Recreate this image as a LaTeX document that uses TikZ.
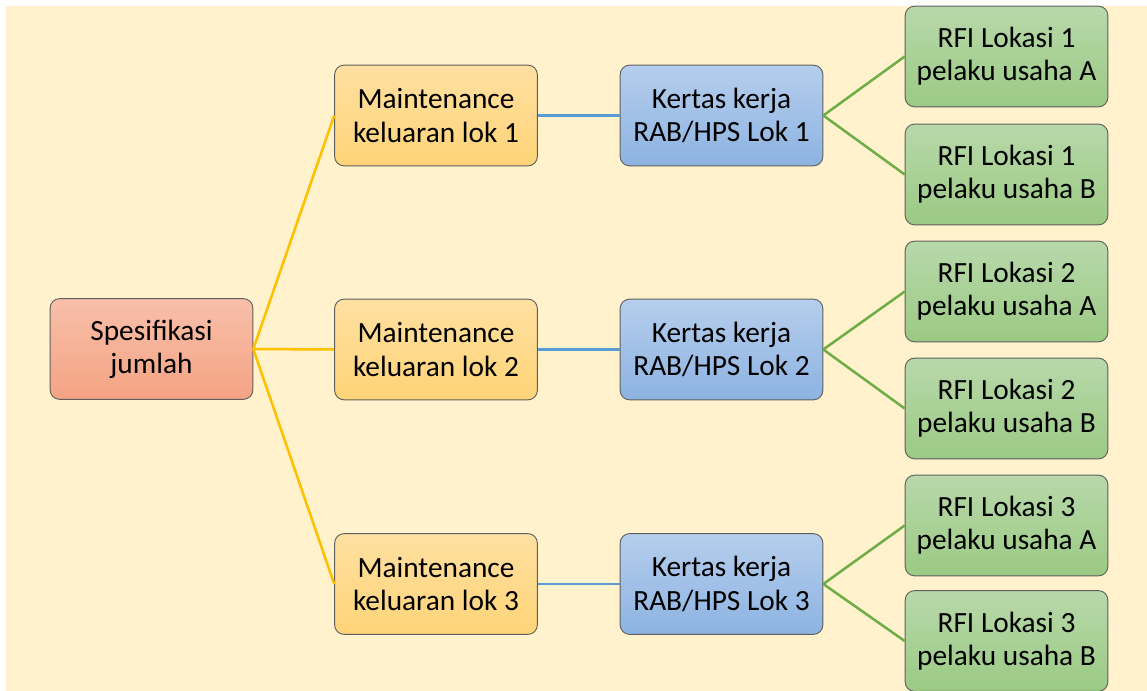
\documentclass[tikz,border=0pt]{standalone}
\usepackage{fontspec}
\setmainfont{Carlito}

\definecolor{bgcream}{HTML}{FFF2CC}
\definecolor{spectop}{HTML}{F8BFAA}
\definecolor{specbot}{HTML}{F4A383}
\definecolor{mainttop}{HTML}{FFE0A1}
\definecolor{maintbot}{HTML}{FFD478}
\definecolor{kerttop}{HTML}{B5CEEC}
\definecolor{kertbot}{HTML}{8DB3E2}
\definecolor{rfitop}{HTML}{B8D8AA}
\definecolor{rfibot}{HTML}{9BCA84}
\definecolor{boxline}{HTML}{5F5F5F}
\definecolor{yline}{HTML}{FFC000}
\definecolor{bline}{HTML}{5B9BD5}
\definecolor{gline}{HTML}{70AD47}

\tikzset{
	box/.style={draw=boxline, line width=0.7pt, rounded corners=7pt,
		minimum width=152pt, minimum height=75.5pt, inner sep=0pt, align=center,
		font=\fontsize{22}{25}\selectfont},
	specbox/.style={box, top color=spectop, bottom color=specbot},
	maintbox/.style={box, top color=mainttop, bottom color=maintbot},
	kertbox/.style={box, top color=kerttop, bottom color=kertbot},
	rfibox/.style={box, top color=rfitop, bottom color=rfibot},
	link/.style={line width=1.9pt}
}

\begin{document}
\begin{tikzpicture}[x=0.75pt, y=-0.75pt]
	\useasboundingbox (0,0) rectangle (1147,691);
	\fill [bgcream] (6,6) rectangle (1147,691);

	\node [specbox] (spec) at (151.5,349) {Spesifikasi\\jumlah};

	\node [maintbox] (maint1) at (436,115.5) {Maintenance\\keluaran lok 1};
	\node [maintbox] (maint2) at (436,349.5) {Maintenance\\keluaran lok 2};
	\node [maintbox] (maint3) at (436,584) {Maintenance\\keluaran lok 3};

	\node [kertbox] (kert1) at (721.5,115.5) {Kertas kerja\\RAB/HPS Lok 1};
	\node [kertbox] (kert2) at (721.5,349.5) {Kertas kerja\\RAB/HPS Lok 2};
	\node [kertbox] (kert3) at (721.5,584) {Kertas kerja\\RAB/HPS Lok 3};

	\node [rfibox] (rfi1a) at (1006.5,56.5) {RFI Lokasi 1\\pelaku usaha A};
	\node [rfibox] (rfi1b) at (1006.5,174.5) {RFI Lokasi 1\\pelaku usaha B};
	\node [rfibox] (rfi2a) at (1006.5,291.5) {RFI Lokasi 2\\pelaku usaha A};
	\node [rfibox] (rfi2b) at (1006.5,408.5) {RFI Lokasi 2\\pelaku usaha B};
	\node [rfibox] (rfi3a) at (1006.5,525.5) {RFI Lokasi 3\\pelaku usaha A};
	\node [rfibox] (rfi3b) at (1006.5,641) {RFI Lokasi 3\\pelaku usaha B};

	\draw [link, yline] (spec.east) -- (maint1.west);
	\draw [link, yline] (spec.east) -- (maint2.west);
	\draw [link, yline] (spec.east) -- (maint3.west);

	\draw [link, bline] (maint1.east) -- (kert1.west);
	\draw [link, bline] (maint2.east) -- (kert2.west);
	\draw [link, bline] (maint3.east) -- (kert3.west);

	\draw [link, gline] (kert1.east) -- (rfi1a.west);
	\draw [link, gline] (kert1.east) -- (rfi1b.west);
	\draw [link, gline] (kert2.east) -- (rfi2a.west);
	\draw [link, gline] (kert2.east) -- (rfi2b.west);
	\draw [link, gline] (kert3.east) -- (rfi3a.west);
	\draw [link, gline] (kert3.east) -- (rfi3b.west);
\end{tikzpicture}
\end{document}
